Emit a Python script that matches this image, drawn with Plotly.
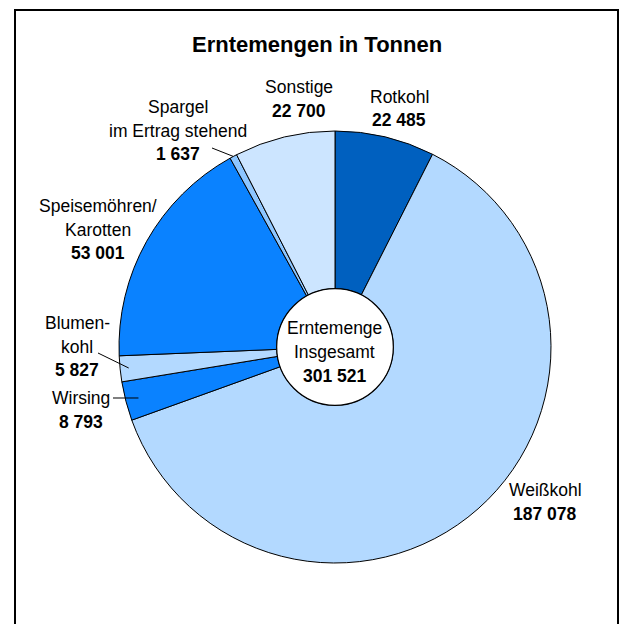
import math
import plotly.graph_objects as go

# Harvest quantities in tonnes, clockwise from 12 o'clock
categories = ["Rotkohl", "Weißkohl", "Wirsing", "Blumenkohl",
              "Speisemöhren/Karotten", "Spargel im Ertrag stehend", "Sonstige"]
values = [22485, 187078, 8793, 5827, 53001, 1637, 22700]
label_lines = [["Rotkohl"], ["Weißkohl"], ["Wirsing"], ["Blumen-", "kohl"],
               ["Speisemöhren/", "Karotten"], ["Spargel", "im Ertrag stehend"],
               ["Sonstige"]]
colors = ["#0060BF", "#B3D9FF", "#0A82FF", "#B3D9FF", "#0A82FF", "#8DC6FF", "#CCE5FF"]

W, H = 621, 624
CX, CY, R = 335, 347, 216          # pie centre / radius in pixels
HOLE = 0.27
FONT = "Liberation Sans, Arial, sans-serif"


def fmt(v):
    return f"{v:,}".replace(",", " ")


def px(x, y):
    return x / W, 1 - y / H


total = sum(values)

fig = go.Figure(go.Pie(
    labels=categories, values=values, sort=False, direction="clockwise",
    rotation=0, hole=HOLE, textinfo="none", hoverinfo="label+value",
    marker=dict(colors=colors, line=dict(color="black", width=1)),
    domain=dict(x=[(CX - R) / W, (CX + R) / W],
                y=[1 - (CY + R) / H, 1 - (CY - R) / H]),
    showlegend=False,
))

# label anchor points (pixel centres of the first text line)
label_pos = {
    "Rotkohl": (399, 97),
    "Weißkohl": (545, 490),
    "Wirsing": (81, 398),
    "Blumenkohl": (77, 323),
    "Speisemöhren/Karotten": (98, 206),
    "Spargel im Ertrag stehend": (178, 107),
    "Sonstige": (299, 87),
}
LINE_H = 23.5

annotations = []
for cat, v, lines in zip(categories, values, label_lines):
    x, y = label_pos[cat]
    all_lines = lines + [f"<b>{fmt(v)}</b>"]
    for i, t in enumerate(all_lines):
        ax, ay = px(x, y + i * LINE_H)
        annotations.append(dict(x=ax, y=ay, xref="paper", yref="paper",
                                text=t, showarrow=False, xanchor="center",
                                yanchor="middle",
                                font=dict(family=FONT, size=17.5, color="black")))

# title
tx, ty = px(317, 45)
annotations.append(dict(x=tx, y=ty, xref="paper", yref="paper",
                        text="<b>Erntemengen in Tonnen</b>", showarrow=False,
                        xanchor="center", yanchor="middle",
                        font=dict(family=FONT, size=22, color="black")))

# total in the centre
for i, t in enumerate(["Erntemenge", "Insgesamt", f"<b>{fmt(total)}</b>"]):
    ax, ay = px(CX, 328 + i * 24)
    annotations.append(dict(x=ax, y=ay, xref="paper", yref="paper", text=t,
                            showarrow=False, xanchor="center", yanchor="middle",
                            font=dict(family=FONT, size=17.5, color="black")))

shapes = []
# outer frame (bottom edge runs below the page)
shapes.append(dict(type="rect", xref="paper", yref="paper",
                   x0=15 / W, x1=618 / W, y0=-0.1, y1=1 - 10 / H,
                   line=dict(color="black", width=2), layer="above"))

# outline of the centre hole
hr = R * HOLE
shapes.append(dict(type="circle", xref="paper", yref="paper",
                   x0=(CX - hr) / W, x1=(CX + hr) / W,
                   y0=1 - (CY + hr) / H, y1=1 - (CY - hr) / H,
                   fillcolor="white", line=dict(color="black", width=1.2)))

# leader lines from the label to the middle of the small slices
leaders = {
    "Spargel im Ertrag stehend": ((212, 148), 1.0),
    "Blumenkohl": ((98, 353), 0.96),
    "Wirsing": ((113, 398), 0.94),
}
cum = 0
for cat, v in zip(categories, values):
    mid = (cum + v / 2) / total * 2 * math.pi
    cum += v
    if cat in leaders:
        (lx, ly), f = leaders[cat]
        ex = CX + R * f * math.sin(mid)
        ey = CY - R * f * math.cos(mid)
        x0, y0 = px(lx, ly)
        x1, y1 = px(ex, ey)
        shapes.append(dict(type="line", xref="paper", yref="paper",
                           x0=x0, y0=y0, x1=x1, y1=y1,
                           line=dict(color="black", width=1)))

fig.update_layout(
    width=W, height=H, margin=dict(l=0, r=0, t=0, b=0),
    paper_bgcolor="white", plot_bgcolor="white",
    annotations=annotations, shapes=shapes,
)

fig.write_html("out.html")
